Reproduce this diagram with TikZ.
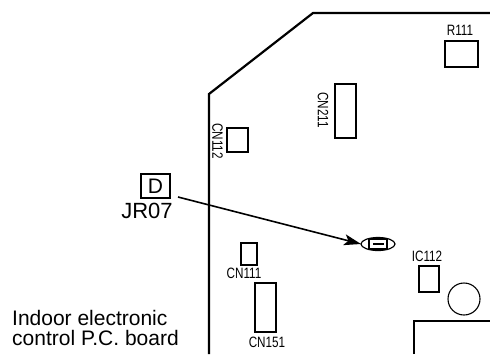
\documentclass[tikz,border=0pt]{standalone}
\usepackage{fontspec}
\setmainfont{Liberation Sans}
\newfontfamily\partfont[FakeStretch=0.78]{Liberation Sans}
\usetikzlibrary{calc,arrows.meta,shapes.geometric}

\tikzset{
  part/.style={draw,rectangle,line width=1.1pt,inner sep=0pt,outer sep=0pt},
  partlabel/.style={font=\partfont\fontsize{15}{15}\selectfont,inner sep=0pt},
  board/.style={line width=2.2pt,miter limit=10}
}

\begin{document}
\begin{tikzpicture}[x=1pt,y=-1pt]
\useasboundingbox (0,0) rectangle (490,354);
\draw[board] (209,354) -- (209,94) -- (313,13) -- (490,13);
\draw[board] (414,354) -- (414,321) -- (490,321);

\draw node [part,minimum width=33pt,minimum height=26pt](r111) at (461.5,54){};
\draw node at ($ (r111.north) + (-1.5pt,11pt)$)[partlabel]{R111};

\draw node [part,minimum width=21pt,minimum height=54pt](cn211) at (345.5,111){};
\draw node at ($ (cn211.west) + (-12pt,1pt)$)[partlabel,rotate=-90]{CN211};

\draw node [part,minimum width=21pt,minimum height=24pt](cn112) at (237.5,140){};
\draw node at ($ (cn112.west) + (-9.5pt,-1pt)$)[partlabel,rotate=-90]{CN112};

\draw node [part,minimum width=16pt,minimum height=22pt](cn111) at (249,254){};
\draw node at ($ (cn111.south) + (-5pt,-8pt)$)[partlabel]{CN111};

\draw node [part,minimum width=21pt,minimum height=49pt](cn151) at (265.5,307.5){};
\draw node at ($ (cn151.south) + (1.5pt,-10.5pt)$)[partlabel]{CN151};

\draw node [part,minimum width=20pt,minimum height=26pt](ic112) at (429,279){};
\draw node at ($ (ic112.north) + (-2pt,10pt)$)[partlabel]{IC112};

\draw node [draw,circle,line width=1.1pt,minimum size=32pt,inner sep=0pt,outer sep=0pt](cap) at (464,299){};

\draw node [draw,ellipse,line width=1.2pt,minimum width=34pt,minimum height=13pt,inner sep=0pt,outer sep=0pt](jumper) at (378,244){};
\draw node [part,minimum width=18pt,minimum height=10pt] at (jumper){};
\draw node [fill=black,rectangle,minimum width=11pt,minimum height=2.2pt,inner sep=0pt] at (jumper){};

\draw node [part,minimum width=29pt,minimum height=24pt,font=\fontsize{21}{21}\selectfont](dbox) at (155.5,186){D};
\draw node [inner sep=0pt,anchor=base,font=\fontsize{22}{22}\selectfont](jr07) at (147,218){JR07};

\coordinate (start) at ($ (dbox.south east) + (8pt,1pt)$);
\draw[-{Stealth[length=17pt,width=11pt,inset=4pt]},line width=1.6pt] (start) -- (jumper.west);

\draw node [inner sep=0pt,anchor=base west,font=\fontsize{21}{21}\selectfont](pcb1) at (12,325){Indoor electronic};
\draw node [inner sep=0pt,anchor=base west,font=\fontsize{21}{21}\selectfont](pcb2) at (12,345.5){control P.C. board};

\end{tikzpicture}
\end{document}
